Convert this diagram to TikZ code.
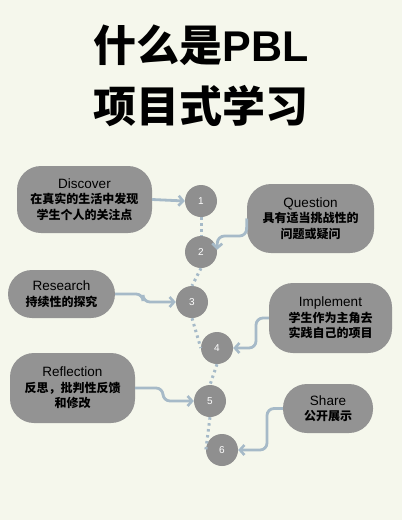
\documentclass[tikz,border=0pt]{standalone}
\usepackage{fontspec}
\setmainfont{Liberation Sans}
\newfontfamily\cjk{Noto Sans CJK SC}
\usetikzlibrary{arrows.meta}
\definecolor{bg}{RGB}{245,247,236}
\definecolor{boxgray}{RGB}{147,147,147}
\definecolor{circgray}{RGB}{143,143,143}
\definecolor{linkblue}{RGB}{166,186,200}
\newcommand\en[1]{{\fontsize{13.5}{15.5}\selectfont #1}}
\newcommand\zh[1]{{\cjk\bfseries #1}}
\tikzset{
  card/.style={fill=boxgray, rounded corners=24pt, inner sep=0pt, align=center,
    text=black, font=\fontsize{12}{15.5}\selectfont},
  stepcirc/.style={circle, fill=circgray, minimum size=32pt, inner sep=0pt,
    text=white, font=\fontsize{10}{12}\selectfont},
  link/.style={draw=linkblue, line width=2.8pt, rounded corners=7pt,
    -{Straight Barb[length=4.5pt,width=10pt,line width=2.6pt]}},
  dotline/.style={draw=linkblue, line width=3pt, dash pattern=on 2.5pt off 3.5pt},
  titletext/.style={anchor=base, inner sep=0pt, text=black,
    font=\fontsize{43}{48}\selectfont\bfseries}
}
\begin{document}
\begin{tikzpicture}[x=1pt,y=-1pt]
\path[fill=bg, use as bounding box] (0,0) rectangle (402,520);

\node[titletext] (t1) at (201,61.5) {\cjk 什么是\normalfont\bfseries PBL};
\node[titletext] (t2) at (201,122) {\cjk 项目式学习};

\node[card, minimum width=135pt, minimum height=67pt] (discover) at (84.5,199.5)
  {\en{Discover}\\\zh{在真实的生活中发现}\\\zh{学生个人的关注点}};
\node[card, minimum width=127pt, minimum height=69pt] (question) at (310.5,218.5)
  {\en{Question}\\\zh{具有适当挑战性的}\\\zh{问题或疑问}};
\node[card, minimum width=107pt, minimum height=48pt] (research) at (61.5,294)
  {\en{Research}\\\zh{持续性的探究}};
\node[card, minimum width=123pt, minimum height=70pt] (implement) at (330.5,318)
  {\en{Implement}\\\zh{学生作为主角去}\\\zh{实践自己的项目}};
\node[card, minimum width=125pt, minimum height=70pt] (reflection) at (72.5,388)
  {\en{Reflection}\\\zh{反思，批判性反馈}\\\zh{和修改}};
\node[card, minimum width=90pt, minimum height=49pt] (share) at (328,408.5)
  {\en{Share}\\\zh{公开展示}};

\node[stepcirc] (c1) at (201,201) {1};
\node[stepcirc] (c2) at (201,252) {2};
\node[stepcirc] (c3) at (192,302) {3};
\node[stepcirc] (c4) at (217,348) {4};
\node[stepcirc] (c5) at (210,401) {5};
\node[stepcirc] (c6) at (222,450) {6};

\draw[dotline] (c1.south) -- (c2.north);
\draw[dotline] (c2.south) -- (c3.north);
\draw[dotline] (c3.south) -- (c4.west);
\draw[dotline] (c4.south) -- (c5.north);
\draw[dotline] (c5.south) -- (c6.west);

\draw[link] (discover.east) -- (c1.west);
\draw[link] (question.west) -- (246.5,236) -- (217.5,236) -- (c2.8);
\draw[link] (research.east) -- (143,294) -- (143,302) -- (c3.west);
\draw[link] (implement.west) -- (256,318) -- (256,348) -- (c4.east);
\draw[link] (reflection.east) -- (163,388) -- (163,401) -- (c5.west);
\draw[link] (share.west) -- (267,408.5) -- (267,450) -- (c6.east);
\end{tikzpicture}
\end{document}
